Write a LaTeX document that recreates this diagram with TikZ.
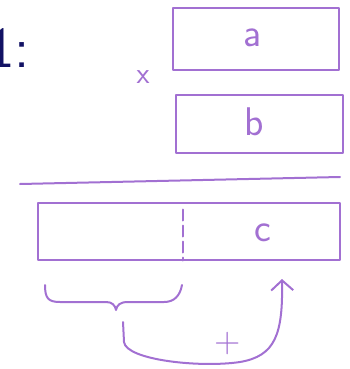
\documentclass[tikz,border=0pt]{standalone}
\usepackage{tikz}
\usetikzlibrary{arrows.meta, calc}
\definecolor{penP}{RGB}{162,112,210}
\definecolor{inkN}{RGB}{18,18,100}
\tikzset{
  pen/.style={draw=penP, line width=2pt, line cap=round, line join=round},
  slot/.style={pen, rectangle, inner sep=0pt},
  hand/.style={text=penP, font=\sffamily\fontsize{40}{44}\selectfont, inner sep=0pt}
}

\begin{document}
\begin{tikzpicture}[x=1pt, y=-1pt]
\useasboundingbox (0,0) rectangle (349,369);
% ===== step label =====
\node[text=inkN, font=\sffamily\fontsize{58}{62}\selectfont, anchor=west, inner sep=0pt] (num) at (-13,48) {1:};
% ===== factors a, b and the sign =====
\node[slot, minimum width=166pt, minimum height=62pt] (abox) at (256,39) {};
\node[hand] (alab) at (253,38) {a};
\node[slot, minimum width=167pt, minimum height=58pt] (bbox) at (259,124) {};
\node[hand] (blab) at (254,122) {b};
\node[hand, font=\sffamily\fontsize{30}{32}\selectfont] (times) at (143,77) {x};
% rule under the factors
\coordinate (ruleL) at (20,184);
\coordinate (ruleR) at (340,177);
\draw[pen] (ruleL) -- (ruleR);
% ===== result c, split in two parts =====
\node[slot, minimum width=302pt, minimum height=57pt] (cbox) at (189,231) {};
\node[hand] (clab) at (263,233) {c};
\draw[pen, dash pattern=on 11pt off 5pt] ($(cbox.north west)!0.48!(cbox.north east)+(0,8)$) -- ($(cbox.south west)!0.48!(cbox.south east)$);
% brace under the left part
\coordinate (tip) at (116,310);
\draw[pen] (45,285) .. controls (45,298) and (48,302) .. (60,302) -- (106,302)
  .. controls (112,302) and (115,305) .. (tip)
  .. controls (117,305) and (120,302) .. (128,302) -- (164,302)
  .. controls (174,302) and (180,296) .. (182,285);
% carry arrow back into c
\coordinate (carry) at (123,322);
\draw[pen, -{Straight Barb[length=10pt, width=22pt, line width=2pt]}] (carry) -- (124,342)
  .. controls (126,360) and (200,368) .. (240,362)
  .. controls (275,356) and (283,335) .. (282,279);
\node[hand, font=\sffamily\fontsize{36}{38}\selectfont] (plus) at (228,344) {+};
\end{tikzpicture}
\end{document}
